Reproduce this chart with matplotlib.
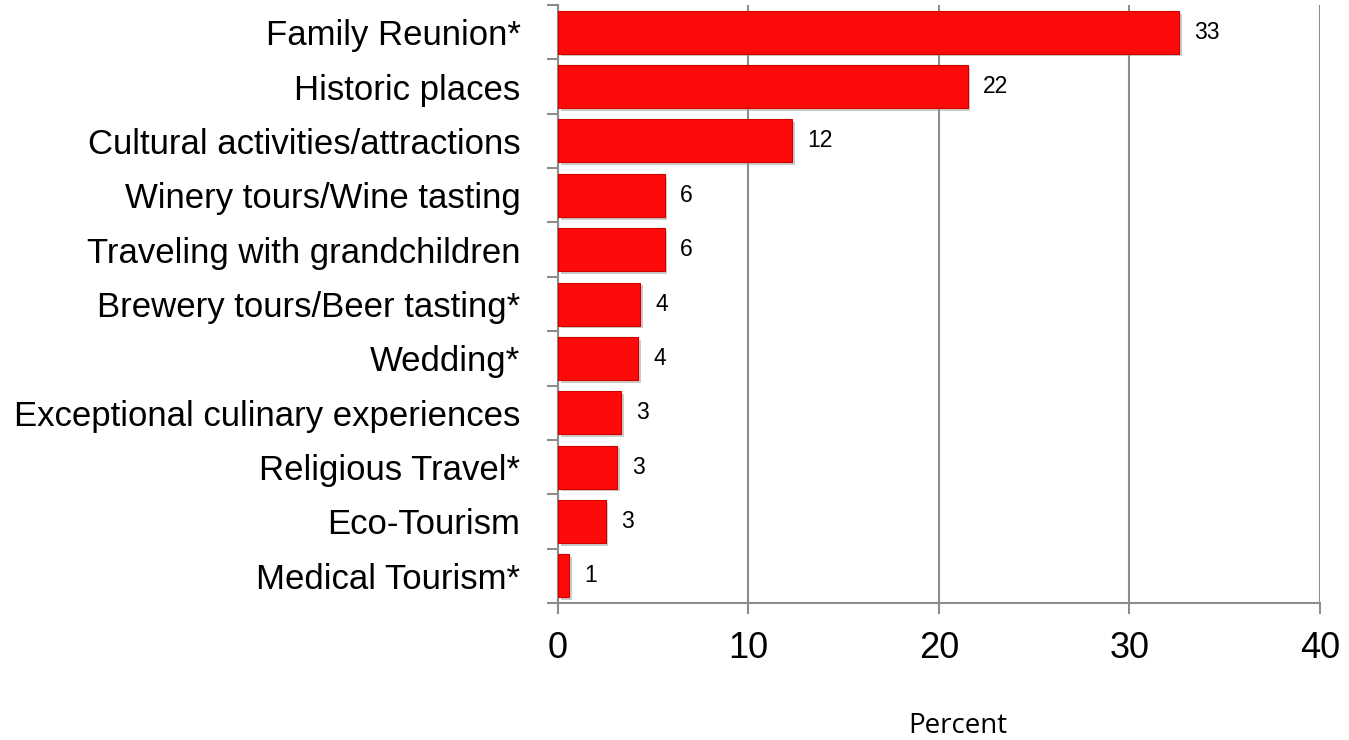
import matplotlib
matplotlib.use('Agg')
import matplotlib.pyplot as plt
import matplotlib.patheffects as pe
import numpy as np

# Daten aus dem Diagramm (Prozent)
categories = [
    "Family Reunion*",
    "Historic places",
    "Cultural activities/attractions",
    "Winery tours/Wine tasting",
    "Traveling with grandchildren",
    "Brewery tours/Beer tasting*",
    "Wedding*",
    "Exceptional culinary experiences",
    "Religious Travel*",
    "Eco-Tourism",
    "Medical Tourism*",
]
values = [32.6, 21.5, 12.3, 5.6, 5.6, 4.3, 4.2, 3.3, 3.1, 2.5, 0.6]
value_labels = ["33", "22", "12", "6", "6", "4", "4", "3", "3", "3", "1"]

plt.rcParams['font.family'] = ['Liberation Sans', 'DejaVu Sans']

fig = plt.figure(figsize=(13.49, 7.40), dpi=100)
ax = fig.add_axes([0.4136, 0.1851, 0.9785 - 0.4136, 0.9932 - 0.1851])

y = np.arange(len(categories))
bars = ax.barh(y, values, height=0.79, color='#FF0A0A', edgecolor='#D00000',
               linewidth=0.8, zorder=3)
for b in bars:
    b.set_path_effects([pe.SimplePatchShadow(offset=(2, -2), shadow_rgbFace='#999999', alpha=0.5),
                        pe.Normal()])

for yi, v, lab in zip(y, values, value_labels):
    ax.text(v + 0.8, yi, lab, va='center', ha='left', fontsize=16.5, color='black')

ax.set_xlim(0, 40)
ax.set_ylim(len(categories) - 0.5, -0.5)
ax.set_xticks([0, 10, 20, 30, 40])
ax.tick_params(axis='x', labelsize=26, length=8, width=1.5, color='#8c8c8c',
               direction='out', pad=12)
ax.set_yticks(y)
ax.set_yticklabels(categories)
ax.set_yticks(np.arange(-0.5, len(categories), 1), minor=True)
ax.tick_params(axis='y', which='major', length=0, labelsize=25, pad=27)
ax.tick_params(axis='y', which='minor', length=8, width=1.5, color='#8c8c8c')

ax.grid(axis='x', color='#8c8c8c', linewidth=1.5, zorder=0)
ax.set_axisbelow(True)
for s in ['top', 'right']:
    ax.spines[s].set_visible(False)
for s in ['left', 'bottom']:
    ax.spines[s].set_color('#8c8c8c')
    ax.spines[s].set_linewidth(1.5)

fig.text(958 / 1349, 1 - 726 / 740, "Percent", ha='center', va='center',
         fontsize=20, family=['Open Sans', 'DejaVu Sans'])

plt.savefig('out.png', dpi=100)
